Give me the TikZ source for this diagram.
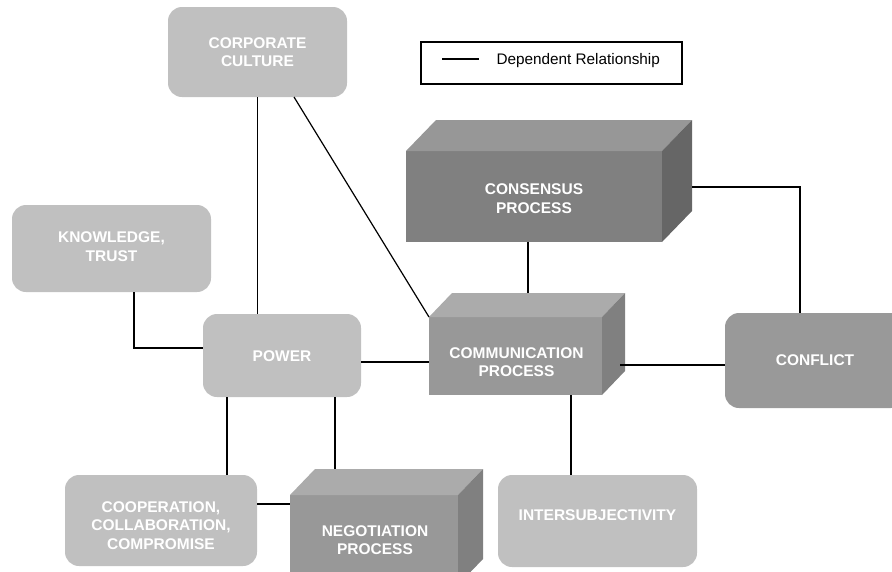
\documentclass[tikz,border=0pt]{standalone}
\usepackage{fontspec}
\setmainfont{Liberation Sans}
\usetikzlibrary{calc}

\definecolor{lightbox}{HTML}{C0C0C0}
\definecolor{conflictbox}{HTML}{999999}
\definecolor{consfront}{HTML}{808080}
\definecolor{constop}{HTML}{979797}
\definecolor{consside}{HTML}{666666}
\definecolor{procfront}{HTML}{989898}
\definecolor{proctop}{HTML}{ABABAB}
\definecolor{procside}{HTML}{808080}

\tikzset{
  roundbox/.style={fill=#1, rounded corners=14pt, inner sep=0pt, outer sep=0pt},
  frontface/.style={fill=#1, inner sep=0pt, outer sep=0pt},
  lbl/.style={text=white, font=\bfseries\fontsize{15.5}{18.5}\selectfont, align=center, inner sep=0pt},
  link/.style={draw=black, line width=1.2pt},
}

\begin{document}
\begin{tikzpicture}[x=1pt, y=-1pt]
\useasboundingbox (0,0) rectangle (892,571);

% rounded boxes
\node[roundbox=lightbox, minimum width=179pt, minimum height=90pt] (corp) at (257.5,52) {};
\node[roundbox=lightbox, minimum width=199pt, minimum height=87pt] (know) at (111.5,248.5) {};
\node[roundbox=lightbox, minimum width=158pt, minimum height=83pt] (power) at (282,355.5) {};
\node[roundbox=lightbox, minimum width=192pt, minimum height=91pt] (coop) at (161,520.5) {};
\node[roundbox=lightbox, minimum width=199pt, minimum height=92pt] (inter) at (597.5,521) {};
\node[roundbox=conflictbox, minimum width=180pt, minimum height=95pt] (conflict) at (815,360.5) {};

% cuboid: consensus process
\node[frontface=consfront, minimum width=256pt, minimum height=91pt] (cons) at (534,196.5) {};
\fill[constop] (cons.north west) -- ++(30,-31) -- ($(cons.north east)+(30,-31)$) -- (cons.north east) -- cycle;
\fill[consside] (cons.north east) -- ++(30,-31) -- ($(cons.south east)+(30,-31)$) -- (cons.south east) -- cycle;

% cuboid: communication process
\node[frontface=procfront, minimum width=173pt, minimum height=78pt] (comm) at (515.5,356) {};
\fill[proctop] (comm.north west) -- ++(23,-24) -- ($(comm.north east)+(23,-24)$) -- (comm.north east) -- cycle;
\fill[procside] (comm.north east) -- ++(23,-24) -- ($(comm.south east)+(23,-24)$) -- (comm.south east) -- cycle;

% cuboid: negotiation process
\node[frontface=procfront, minimum width=168pt, minimum height=90pt] (neg) at (374,540) {};
\fill[proctop] (neg.north west) -- ++(25,-26) -- ($(neg.north east)+(25,-26)$) -- (neg.north east) -- cycle;
\fill[procside] (neg.north east) -- ++(25,-26) -- ($(neg.south east)+(25,-26)$) -- (neg.south east) -- cycle;

% labels
\node[lbl] (corpT) at (corp.center) {CORPORATE\\CULTURE};
\node[lbl] (knowT) at ($(know.center)+(0,-2)$) {KNOWLEDGE,\\TRUST};
\node[lbl] (powerT) at ($(power.center)+(0,1)$) {POWER};
\node[lbl] (coopT) at ($(coop.center)+(0,5)$) {COOPERATION,\\COLLABORATION,\\COMPROMISE};
\node[lbl] (interT) at ($(inter.center)+(0,-6)$) {INTERSUBJECTIVITY};
\node[lbl] (conflictT) at (conflict.center) {CONFLICT};
\node[lbl] (consT) at ($(cons.center)+(0,2)$) {CONSENSUS\\PROCESS};
\node[lbl] (commT) at ($(comm.center)+(1,6)$) {COMMUNICATION\\PROCESS};
\node[lbl] (negT) at ($(neg.center)+(1,0)$) {NEGOTIATION\\PROCESS};

% attachment points on cuboid faces and box edges
\coordinate (commtop) at ($(comm.north)+(12.5,-24)$);
\coordinate (commside) at ($(comm.east)+(18,9)$);
\coordinate (consside) at ($(cons.east)+(30,-9.5)$);
\coordinate (negtop) at ($(neg.north west)+(25,-26)$);
\coordinate (powerB1) at ($(power.south)+(-55,0)$);
\coordinate (powerB2) at ($(power.south)+(53,0)$);
\coordinate (powerE) at ($(power.east)+(0,6.5)$);
\coordinate (commB) at ($(comm.south)+(55.5,0)$);
\coordinate (coopE) at ($(coop.east)+(0,-16.5)$);

% dependent relationships
\draw[link] (corp.south) -- (corp.south |- power.north);
\draw[link] ($(corp.south)+(36.5,0)$) -- (comm.north west);
\draw[link] ($(know.south)+(22.5,0)$) |- ($(power.west)+(0,-7.5)$);
\draw[link] (powerE) -- (powerE -| comm.west);
\draw[link] (commtop) -- (commtop |- cons.south);
\draw[link] (consside) -| ($(conflict.north)+(-15,0)$);
\draw[link] (commside) -- (commside -| conflict.west);
\draw[link] (commB) -- (commB |- inter.north);
\draw[link] (powerB1) -- (powerB1 |- coop.north);
\draw[link] (powerB2) -- (powerB2 |- negtop);
\draw[link] (coopE) -- (coopE -| neg.west);

% legend
\node[draw=black, line width=1.2pt, minimum width=261pt, minimum height=42pt, inner sep=0pt] (legend) at (551.5,63) {};
\draw[link] ($(legend.west)+(22,-4)$) coordinate (legA) -- ++(37,0) coordinate (legB);
\node[anchor=west, inner sep=0pt, font=\fontsize{15.3}{18}\selectfont] (legT) at ($(legend.west)+(76,-2.5)$) {Dependent Relationship};
\end{tikzpicture}
\end{document}
